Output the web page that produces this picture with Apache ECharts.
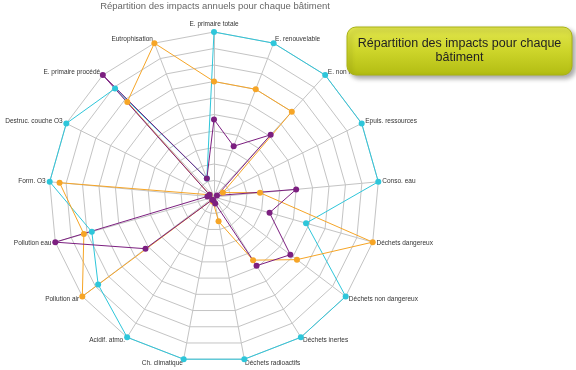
<!DOCTYPE html>
<html><head><meta charset="utf-8">
<script src="https://cdn.jsdelivr.net/npm/echarts@6/dist/echarts.min.js"></script>
<style>html,body{margin:0;padding:0;background:#fff}#c{width:576px;height:370px}</style>
</head><body><div id="c"></div>
<script>
// Indicators listed clockwise from the top, as in the reference
const indicatorNames = ['E. primaire totale','E. renouvelable','E. non renouvelable','Epuis. ressources','Conso. eau','Déchets dangereux','Déchets non dangereux','Déchets inertes','Déchets radioactifs','Ch. climatique','Acidif. atmo.','Pollution air','Pollution eau','Form. O3','Destruc. couche O3','E. primaire procédé','Eutrophisation'];
const axisMax = 10;
const seriesNames = ['Bâtiment 1','Bâtiment 2','Bâtiment 3'];
const valuesCyan   = [10,10,10,10,10,5.8,10,10,10,10,10,8.8,7.7,10,10,8.9,1.2];
const valuesOrange = [7,7,7,0.6,2.8,10,6.3,4.5,1.5,0.3,0.2,10,8.2,9.4,0.3,7.8,10];
const valuesPurple = [4.7,3.3,5.1,0.2,5,3.5,5.8,4.9,0.4,0.2,0.2,5.2,10,0.4,0.3,10,1.2];
const chartTitle = 'Répartition des impacts annuels pour chaque bâtiment';
const boxText = 'Répartition des impacts pour chaque\nbâtiment';

// ECharts lays radar axes out counter-clockwise: reverse all but the first
const order = [0].concat(indicatorNames.map((_, i) => i).slice(1).reverse());
const reorder = arr => order.map(i => arr[i]);

const colors = ['#2ec6da','#f6a526','#7c1f80'];
const chart = echarts.init(document.getElementById('c'), null, {renderer:'canvas'});
chart.setOption({
  animation: false,
  backgroundColor: '#fff',
  color: colors,
  title: {
    text: chartTitle, left: 215, top: 1, textAlign: 'center', padding: 0,
    textStyle: {fontSize: 9.5, fontWeight: 'normal', color: '#666', fontFamily: '"Liberation Sans", Arial, sans-serif'}
  },
  radar: {
    center: [214, 197],
    radius: 165,
    startAngle: 90,
    splitNumber: 10,
    shape: 'polygon',
    indicator: reorder(indicatorNames).map(n => ({name: n, min: 0, max: axisMax})),
    axisName: {color: '#333', fontSize: 6.5, fontFamily: '"Liberation Sans", Arial, sans-serif'},
    nameGap: 4,
    splitArea: {show: false},
    splitLine: {lineStyle: {color: '#c4c4c4', width: 1}},
    axisLine: {lineStyle: {color: '#c4c4c4', width: 1}}
  },
  series: [{
    type: 'radar',
    symbol: 'circle',
    symbolSize: 6,
    lineStyle: {width: 1},
    data: [
      {name: seriesNames[0], value: reorder(valuesCyan), itemStyle: {color: colors[0]}, lineStyle: {color: colors[0]}},
      {name: seriesNames[1], value: reorder(valuesOrange), itemStyle: {color: colors[1]}, lineStyle: {color: colors[1]}},
      {name: seriesNames[2], value: reorder(valuesPurple), itemStyle: {color: colors[2]}, lineStyle: {color: colors[2]}}
    ]
  }],
  graphic: [{
    type: 'rect', z: 100, zlevel: 1,
    shape: {x: 347, y: 27, width: 225, height: 48, r: 9},
    style: {
      fill: new echarts.graphic.LinearGradient(0, 0, 0, 1, [
        {offset: 0, color: '#e2e64e'},
        {offset: 0.5, color: '#cdd52a'},
        {offset: 1, color: '#b2bc12'}
      ]),
      stroke: '#a9b215', lineWidth: 1,
      shadowBlur: 5, shadowOffsetX: 3, shadowOffsetY: 3, shadowColor: 'rgba(0,0,0,0.35)'
    }
  }, {
    type: 'text', z: 101, zlevel: 1,
    style: {
      text: boxText, x: 459.5, y: 50.5, align: 'center', verticalAlign: 'middle',
      fontSize: 12.5, lineHeight: 13.5, fontFamily: '"Liberation Sans", Arial, sans-serif', fill: '#222'
    }
  }]
});
</script></body></html>
